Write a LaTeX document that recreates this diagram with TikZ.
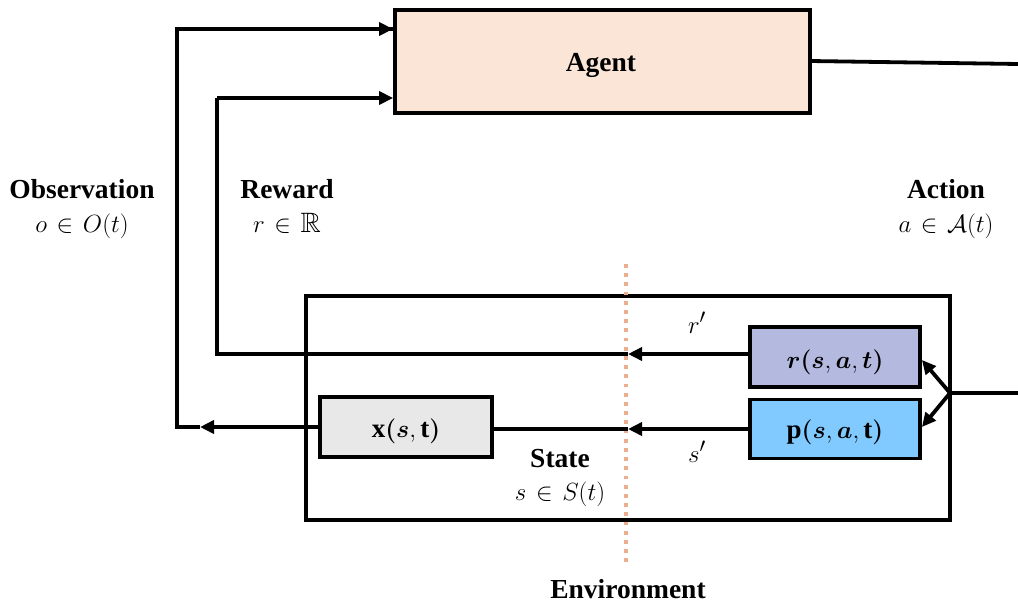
\documentclass[tikz,border=0pt]{standalone}
\usepackage{amsmath,amssymb,bm}
\usepackage{fontspec}
\setmainfont{Liberation Serif}
\usetikzlibrary{arrows.meta}
\definecolor{agentc}{HTML}{FBE5D6}
\definecolor{rboxc}{HTML}{B4BADF}
\definecolor{pboxc}{HTML}{80CAFF}
\definecolor{xboxc}{HTML}{E8E8E8}
\definecolor{dotc}{HTML}{EBAE8E}
\newcommand{\bx}[1]{\bm{#1}}
\newcommand{\wideel}{\thickmuskip=7mu\medmuskip=5mu}
\begin{document}
\begin{tikzpicture}[x=1pt,y=-1pt,
  conn/.style={line width=3.8pt, line join=miter},
  tip/.style={-{Triangle[length=14pt,width=13pt]}},
  box/.style={draw, line width=3.8pt, inner sep=0pt},
  lbl/.style={font=\fontsize{27.5}{30}\selectfont\bfseries, inner sep=0pt, anchor=base},
  mlbl/.style={font=\fontsize{28}{30}\selectfont\wideel, inner sep=0pt, anchor=base},
  btxt/.style={font=\fontsize{27}{30}\selectfont, inner sep=0pt, anchor=base}]
\useasboundingbox (0,0) rectangle (1018,602);
% environment box
\node[box, minimum width=644pt, minimum height=224pt] (env) at (628,408) {};
% dotted divider
\coordinate (dtop) at (626,264);
\coordinate (dbot) at (626,565);
\draw[dotc, line width=3.8pt, dash pattern=on 3.8pt off 5.4pt] (dtop) -- (dbot);
% agent
\node[box, fill=agentc, minimum width=415pt, minimum height=103pt] (agent) at (602.5,61.5) {};
\node[lbl] (agentt) at (601,72) {Agent};
% inner boxes
\node[box, fill=rboxc, minimum width=170pt, minimum height=60pt] (rbox) at (835,357) {};
\node[box, fill=pboxc, minimum width=170pt, minimum height=59pt] (pbox) at (835,429) {};
\node[box, fill=xboxc, minimum width=172pt, minimum height=60pt] (xbox) at (406,427) {};
\node[btxt] (rboxt) at (835,368) {$\bx{r}\bx{(}\bx{s},\bx{a},\bx{t}\bx{)}$};
\node[btxt] (pboxt) at (835,438) {$\mathbf{p}\bx{(}\bx{s},\bx{a},\mathbf{t}\bx{)}$};
\node[btxt] (xboxt) at (406,437) {$\mathbf{x}\bx{(}\bx{s},\mathbf{t}\bx{)}$};
% labels
\node[lbl] (obsl) at (82,198) {Observation};
\node[mlbl] (obsm) at (82,232) {$o\in O(t)$};
\node[lbl] (rewl) at (287,198) {Reward};
\node[mlbl] (rewm) at (287,232) {$r\in\mathbb{R}$};
\node[lbl] (actl) at (946,198) {Action};
\node[mlbl] (actm) at (946,232) {$a\in\mathcal{A}(t)$};
\node[mlbl] (rp) at (697,333) {$r'$};
\node[mlbl] (sp) at (697,462) {$s'$};
\node[lbl] (statel) at (560,467) {State};
\node[mlbl] (statem) at (560,500) {$s\in S(t)$};
\node[lbl] (envl) at (628,598) {Environment};
% coordinates
\coordinate (obsmid) at (200,427);
\coordinate (obsbot) at (177,427);
\coordinate (obstop) at (177,29);
\coordinate (rewmid) at (628,354);
\coordinate (rewbot) at (217,354);
\coordinate (rewtop) at (217,98);
\coordinate (smid) at (628,429);
\coordinate (j) at (950,393);
\coordinate (actin) at (1018,393);
\coordinate (actout) at (1018,64);
\coordinate (agr) at (810,61);
% observation path
\draw[conn, tip] (xbox.west) -- (obsmid);
\draw[conn] (obsmid) -- (obsbot) -- (obstop) -- (obstop -| agent.west);
\draw[conn, tip] (obstop) -- (obstop -| agent.west);
% reward path
\draw[conn, tip] (rbox.west |- rewmid) -- (rewmid);
\draw[conn] (rewmid) -- (rewbot) -- (rewtop);
\draw[conn, tip] (rewtop) -- (rewtop -| agent.west);
% state path
\draw[conn, tip] (pbox.west |- smid) -- (smid);
\draw[conn] (smid) -- (xbox.east |- smid);
% action
\draw[conn] (agr) -- (actout);
\draw[conn] (actin) -- (j);
\draw[conn, tip] (j) -- ([yshift=-3pt]rbox.east);
\draw[conn, tip] (j) -- ([yshift=2pt]pbox.east);
\end{tikzpicture}
\end{document}
